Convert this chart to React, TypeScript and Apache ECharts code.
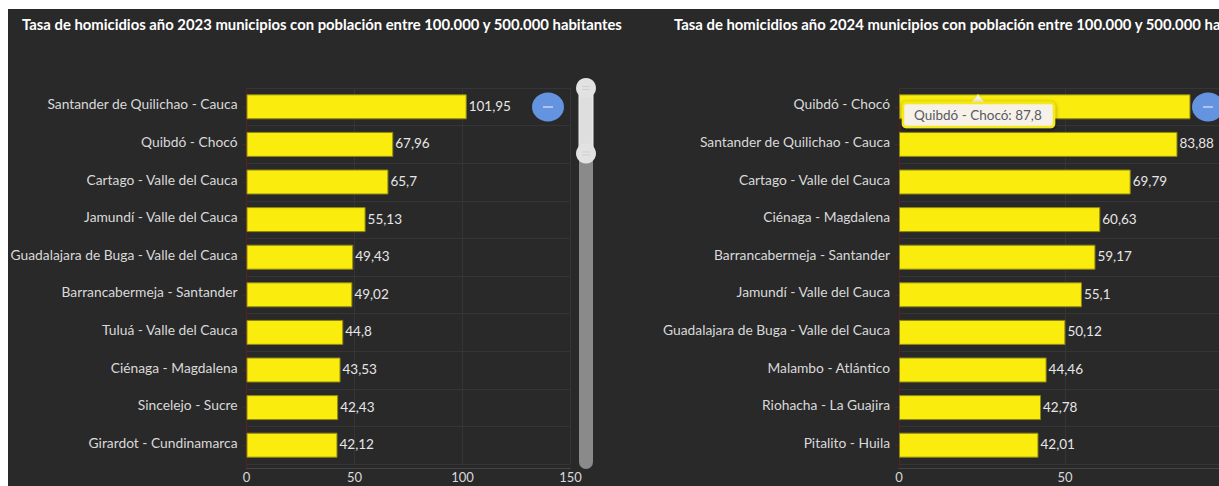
import React, { useEffect, useRef } from "react";
import * as echarts from "echarts";

const title2023 = "Tasa de homicidios año 2023 municipios con población entre 100.000 y 500.000 habitantes";
const title2024 = "Tasa de homicidios año 2024 municipios con población entre 100.000 y 500.000 habitantes";

const categories2023 = [
  "Santander de Quilichao - Cauca",
  "Quibdó - Chocó",
  "Cartago - Valle del Cauca",
  "Jamundí - Valle del Cauca",
  "Guadalajara de Buga - Valle del Cauca",
  "Barrancabermeja - Santander",
  "Tuluá - Valle del Cauca",
  "Ciénaga - Magdalena",
  "Sincelejo - Sucre",
  "Girardot - Cundinamarca",
];
const values2023 = [101.95, 67.96, 65.7, 55.13, 49.43, 49.02, 44.8, 43.53, 42.43, 42.12];

const categories2024 = [
  "Quibdó - Chocó",
  "Santander de Quilichao - Cauca",
  "Cartago - Valle del Cauca",
  "Ciénaga - Magdalena",
  "Barrancabermeja - Santander",
  "Jamundí - Valle del Cauca",
  "Guadalajara de Buga - Valle del Cauca",
  "Malambo - Atlántico",
  "Riohacha - La Guajira",
  "Pitalito - Huila",
];
const values2024 = [87.8, 83.88, 69.79, 60.63, 59.17, 55.1, 50.12, 44.46, 42.78, 42.01];

const tooltipText = "Quibdó - Chocó: 87,8";

const FONT = "Lato";
const BG = "#292929";
const GRID = "#353535";
const AXIS_RED = "#5c1f1f";
const BAR = "#faec0c";
const BAR_BORDER = "#8f8612";
const TEXT = "#d9d9d9";

const fmt = (v: number) => String(v).replace(".", ",");

function xAxis(gridIndex: number, max: number, showMaxLabel: boolean) {
  return {
    type: "value",
    gridIndex,
    min: 0,
    max,
    interval: 50,
    offset: 4,
    axisLine: { show: true, lineStyle: { color: "#444444" } },
    axisTick: { show: false },
    axisLabel: { color: TEXT, fontFamily: FONT, fontSize: 13, margin: 2, showMaxLabel },
    splitLine: { show: true, lineStyle: { color: GRID } },
  };
}

function yAxis(gridIndex: number, data: string[]) {
  return {
    type: "category",
    gridIndex,
    data,
    inverse: true,
    axisLine: { show: true, onZero: false, lineStyle: { color: AXIS_RED } },
    axisTick: { show: true, alignWithLabel: true, length: 4, lineStyle: { color: AXIS_RED } },
    axisLabel: {
      color: TEXT,
      fontFamily: FONT,
      fontSize: 13.8,
      margin: 9,
      verticalAlign: "bottom",
      lineHeight: 6,
    },
    splitLine: { show: true, lineStyle: { color: GRID } },
  };
}

function barSeries(index: number, data: number[]) {
  return {
    type: "bar",
    xAxisIndex: index,
    yAxisIndex: index,
    data,
    barWidth: 25,
    itemStyle: { color: BAR, borderColor: BAR_BORDER, borderWidth: 1 },
    label: {
      show: true,
      position: "right",
      distance: 2,
      offset: [0, -1],
      color: "#e6e6e6",
      fontFamily: FONT,
      fontSize: 13.5,
      formatter: (p: any) => fmt(p.value),
    },
  };
}

function minusButton(cx: number, cy: number) {
  return [
    { type: "ellipse", z: 100, shape: { cx, cy, rx: 16, ry: 14.5 }, style: { fill: "#6493e0" } },
    { type: "line", z: 101, shape: { x1: cx - 5, y1: cy, x2: cx + 5, y2: cy }, style: { stroke: "#dfe8f8", lineWidth: 1.2 } },
  ];
}

function handle(cx: number, cy: number) {
  return [
    { type: "circle", z: 102, shape: { cx, cy, r: 10 }, style: { fill: "#e2e2e2" } },
    { type: "line", z: 103, shape: { x1: cx - 4, y1: cy - 1.5, x2: cx + 4, y2: cy - 1.5 }, style: { stroke: "#cfcfcf", lineWidth: 1 } },
    { type: "line", z: 103, shape: { x1: cx - 4, y1: cy + 1.5, x2: cx + 4, y2: cy + 1.5 }, style: { stroke: "#cfcfcf", lineWidth: 1 } },
  ];
}

export default function App() {
  const ref = useRef<HTMLDivElement>(null);

  useEffect(() => {
    const chart = echarts.init(ref.current!, undefined, { renderer: "svg" });
    chart.setOption({
      animation: false,
      backgroundColor: BG,
      title: [
        { text: title2023, left: 9, top: 2, textStyle: { color: "#ffffff", fontFamily: FONT, fontSize: 14.85, fontWeight: "bold" } },
        { text: title2024, left: 661, top: 2, textStyle: { color: "#ffffff", fontFamily: FONT, fontSize: 14.85, fontWeight: "bold" } },
      ],
      grid: [
        { left: 238.5, top: 79, width: 324, height: 376, outerBoundsMode: "none" },
        { left: 891, top: 79, width: 332, height: 376, outerBoundsMode: "none" },
      ],
      xAxis: [xAxis(0, 150, true), xAxis(1, 100, false)],
      yAxis: [yAxis(0, categories2023), yAxis(1, categories2024)],
      series: [barSeries(0, values2023), barSeries(1, values2024)],
      graphic: [
        // axis line continuation below the last band
        { type: "line", shape: { x1: 238.5, y1: 455, x2: 238.5, y2: 459 }, style: { stroke: AXIS_RED, lineWidth: 1 } },
        { type: "line", shape: { x1: 891, y1: 455, x2: 891, y2: 459 }, style: { stroke: AXIS_RED, lineWidth: 1 } },
        // scrollbar
        { type: "rect", z: 100, shape: { x: 571, y: 79, width: 14, height: 381, r: 7 }, style: { fill: "#8a8a8a" } },
        { type: "rect", z: 101, shape: { x: 571, y: 79, width: 14, height: 65 }, style: { fill: "#dedede", stroke: "#f0f0f0", lineWidth: 1 } },
        ...handle(578, 79),
        ...handle(578, 144.5),
        // minus buttons
        ...minusButton(540, 98),
        ...minusButton(1200, 98),
        // tooltip
        { type: "polygon", z: 110, shape: { points: [[962, 94], [970, 85.5], [978, 94]] }, style: { fill: "#f5f1e6", stroke: "#f5e61a", lineWidth: 1 } },
        {
          type: "rect",
          z: 111,
          shape: { x: 895, y: 94, width: 151, height: 24, r: 3 },
          style: { fill: "#f6f2e9", stroke: "#f7e81a", lineWidth: 2.5, shadowBlur: 4, shadowColor: "rgba(0,0,0,0.45)", shadowOffsetY: 1 },
        },
        { type: "text", z: 112, x: 906, y: 105.5, style: { text: tooltipText, fill: "#5a5a60", font: `13.5px ${FONT}`, verticalAlign: "middle" } },
      ],
    });
    return () => chart.dispose();
  }, []);

  return <div ref={ref} style={{ position: "fixed", left: 8, top: 9, width: 1211, height: 477 }} />;
}
